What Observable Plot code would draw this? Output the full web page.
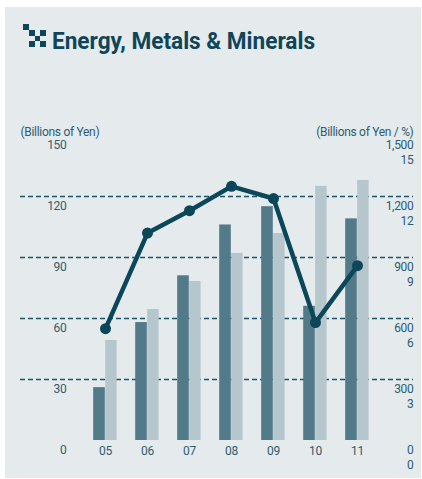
<!DOCTYPE html>
<html><head><meta charset="utf-8">
<script src="https://cdn.jsdelivr.net/npm/d3@7"></script>
<script src="https://cdn.jsdelivr.net/npm/@observablehq/plot@0.6"></script>
<style>
body{margin:0;background:#fff;}
#panel{position:absolute;left:5px;top:7px;width:416px;height:471px;background:#e5eaed;overflow:hidden;}
#head{position:absolute;left:0;top:0;}
#chart{position:absolute;left:0;top:93px;}
</style>
</head><body>
<div id="panel">
<svg id="head" width="416" height="60">
  <g fill="#0f4558">
    <rect x="18" y="17" width="6" height="6"/>
    <rect x="24" y="23" width="6" height="6"/>
    <rect x="35" y="23" width="6" height="6"/>
    <rect x="30" y="29" width="5" height="5"/>
    <rect x="24" y="34" width="6" height="6"/>
    <rect x="35" y="34" width="6" height="6"/>
  </g>
  <text x="47" y="42" fill="#0f4558" font-family="Roboto, sans-serif" font-weight="bold" font-size="24" textLength="263" lengthAdjust="spacingAndGlyphs">Energy, Metals &amp; Minerals</text>
</svg>
<div id="chart"></div>
</div>
<script>
const years = ["05","06","07","08","09","10","11"];
const netIncome = [26, 58, 81, 106, 115, 66, 109];          // left axis, billions of yen
const totalAssets = [492, 644, 782, 920, 1018, 1250, 1279]; // right axis, billions of yen
const roePct = [5.5, 10.2, 11.3, 12.5, 11.9, 5.8, 8.6];     // right axis, %
const leftTicks = [0, 30, 60, 90, 120, 150];
const gridTicks = [30, 60, 90, 120];
const rightYenLabels = ["0", "300", "600", "900", "1,200", "1,500"];
const rightPctLabels = ["0", "3", "6", "9", "12", "15"];
const leftTitle = "(Billions of Yen)";
const rightTitle = "(Billions of Yen / %)";

const rows = years.map((y, i) => ({year: y, income: netIncome[i], assets: totalAssets[i], roe: roePct[i]}));

const font = "Roboto, sans-serif";
const txt = "#2f5c6d";
const dark = "#0b4759";

const chart = Plot.plot({
  width: 416,
  height: 378,
  marginTop: 35,
  marginBottom: 38,
  marginLeft: 15,
  marginRight: 8,
  style: {background: "transparent", fontFamily: font, fontSize: "12px", color: txt, letterSpacing: "-0.3px"},
  x: {type: "band", domain: years, range: [77.3, 374.2], padding: 0, axis: null},
  y: {domain: [0, 150], axis: null},
  marks: [
    Plot.ruleY(gridTicks, {stroke: "#1f5468", strokeDasharray: "5,3", strokeWidth: 1.3}),
    Plot.barY(rows, {x: "year", y: "income", fill: "#527a88", insetLeft: 9.2, insetRight: 21.2}),
    Plot.barY(rows, {x: "year", y: d => d.assets / 10, fill: "#b6c6cd", insetLeft: 21.2, insetRight: 9.4}),
    Plot.line(rows, {x: "year", y: d => d.roe * 10, stroke: dark, strokeWidth: 4.5, strokeLinejoin: "round"}),
    Plot.dot(rows, {x: "year", y: d => d.roe * 10, r: 5.5, fill: dark}),
    Plot.axisX({tickSize: 0, tickPadding: 6, fontSize: 12, fill: txt, label: null}),
    Plot.axisY(leftTicks, {anchor: "left", tickSize: 0, tickPadding: 0, dx: 46, dy: 10, textAnchor: "end", fontSize: 12, fill: txt, label: null}),
    Plot.axisY(leftTicks, {anchor: "right", tickSize: 0, tickPadding: 0, dy: 10, textAnchor: "end", fontSize: 12, fill: txt, label: null, tickFormat: d => rightYenLabels[leftTicks.indexOf(d)]}),
    Plot.axisY(leftTicks, {anchor: "right", tickSize: 0, tickPadding: 0, dy: 25, textAnchor: "end", fontSize: 12, fill: txt, label: null, tickFormat: d => rightPctLabels[leftTicks.indexOf(d)]}),
    Plot.text([leftTitle], {frameAnchor: "top-left", textAnchor: "start", dy: -8, fontSize: 12, fill: txt}),
    Plot.text([rightTitle], {frameAnchor: "top-right", textAnchor: "end", dy: -8, fontSize: 12, fill: txt})
  ]
});
document.getElementById("chart").appendChild(chart);
</script>
</body></html>
